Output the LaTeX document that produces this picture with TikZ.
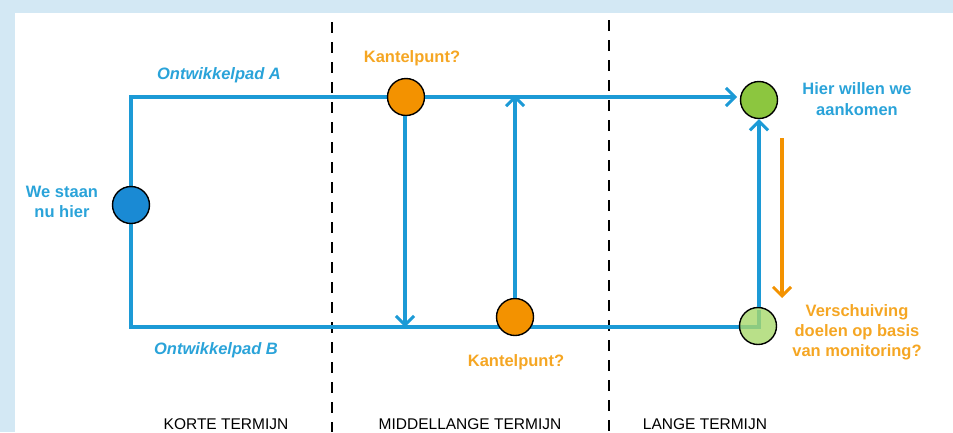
\documentclass[tikz,border=0pt]{standalone}
\usepackage{fontspec}
\setmainfont{Liberation Sans}
\usetikzlibrary{arrows.meta}
\definecolor{pathblue}{HTML}{1C9AD6}
\definecolor{dotblue}{HTML}{1A8AD4}
\definecolor{txtblue}{HTML}{2AA3D9}
\definecolor{kantel}{HTML}{F39200}
\definecolor{txtorange}{HTML}{F5A623}
\definecolor{goal}{HTML}{8CC63F}
\definecolor{goallight}{HTML}{A8D86C}
\definecolor{frameblue}{HTML}{D3E8F4}
\tikzset{
  devpath/.style={draw=pathblue, line width=3.3pt},
  flow/.style={devpath, -{Straight Barb[length=9pt,width=18pt,line width=3pt]}},
  shiftarrow/.style={draw=kantel, line width=3.3pt, -{Straight Barb[length=9pt,width=18pt,line width=3pt]}},
  dot/.style={circle, draw=black, line width=1.4pt, minimum size=37pt, inner sep=0pt},
  divider/.style={draw=black, line width=2.4pt, dash pattern=on 11pt off 9pt},
  bluelbl/.style={text=txtblue, font=\bfseries\fontsize{16.5}{20.5}\selectfont, align=center},
  orangelbl/.style={text=txtorange, font=\bfseries\fontsize{16.5}{20}\selectfont, align=center},
  pathlbl/.style={bluelbl, font=\bfseries\itshape\fontsize{16.5}{20}\selectfont},
  termlbl/.style={font=\fontsize{15.5}{18}\selectfont},
}
\begin{document}
\begin{tikzpicture}[x=1pt,y=-1pt]
\useasboundingbox (0,0) rectangle (953,432);
% light frame along top and left
\fill[frameblue] (0,0) rectangle (953,13);
\fill[frameblue] (0,0) rectangle (15,432);

% period dividers
\draw[divider] (332,22) -- (332,432);
\draw[divider] (609,20) -- (609,432);

% corner points of the two paths
\coordinate (tl) at (131,97);
\coordinate (bl) at (131,327);
\coordinate (br) at (759,327);

% development paths (drawn under the dots)
\draw[devpath] (131,205) -- (tl) -- (406,97);
\draw[devpath] (131,205) -- (bl) -- (br) -- (759,310);

% nodes
\node[dot, fill=dotblue] (now) at (131,205) {};
\node[dot, fill=kantel] (ka) at (406,97) {};
\node[dot, fill=kantel] (kb) at (515,317) {};
\node[dot, fill=goal] (goalA) at (759,100) {};
\node[dot, fill=goallight, fill opacity=0.8] (goalB) at (758,326) {};

% path A towards the goal
\coordinate (arrA) at (737,97);
\draw[flow] (ka.east) -- (arrA);

% switches between paths
\coordinate (kaDown) at (405,327);
\coordinate (kbUp) at (515,95);
\draw[flow] (ka.south -| kaDown) -- (kaDown);
\draw[flow] (kb) -- (kbUp);
\draw[flow] (goalB.north -| goalA.south) -- (goalA);
\coordinate (sTop) at (782,138);
\coordinate (sBot) at (782,298);
\draw[shiftarrow] (sTop) -- (sBot);

% labels
\node[pathlbl] (lblA) at (219,75) {Ontwikkelpad A};
\node[pathlbl] (lblB) at (216,350) {Ontwikkelpad B};
\node[bluelbl] (lblNow) at (62,202) {We staan\\nu hier};
\node[bluelbl] (lblGoal) at (857,99) {Hier willen we\\aankomen};
\node[orangelbl] (lblKa) at (412,58) {Kantelpunt?};
\node[orangelbl] (lblKb) at (516,362) {Kantelpunt?};
\node[orangelbl] (lblShift) at (857,332) {Verschuiving\\doelen op basis\\van monitoring?};

\node[termlbl] (t1) at (226,424) {KORTE TERMIJN};
\node[termlbl] (t2) at (470,424) {MIDDELLANGE TERMIJN};
\node[termlbl] (t3) at (705,424) {LANGE TERMIJN};
\end{tikzpicture}
\end{document}
